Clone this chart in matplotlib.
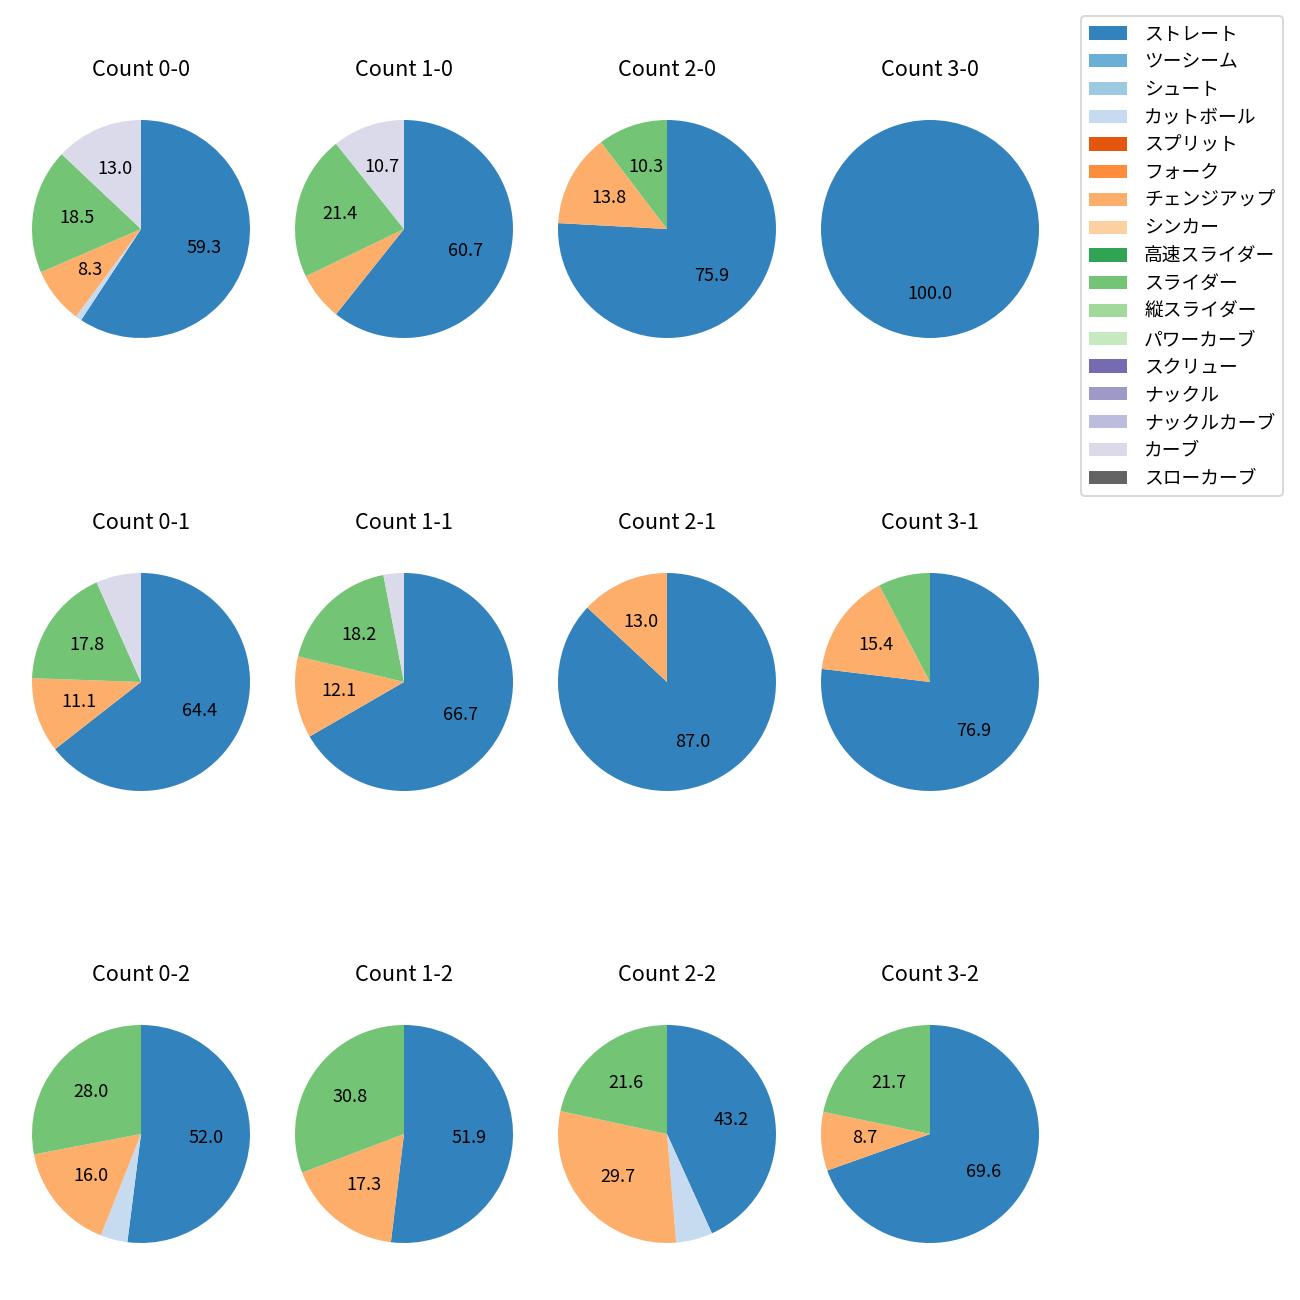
import matplotlib.pyplot as plt
from matplotlib.patches import Patch

plt.rcParams['font.family'] = ['Noto Sans CJK JP', 'DejaVu Sans']

pitch_types = ['ストレート', 'ツーシーム', 'シュート', 'カットボール', 'スプリット',
               'フォーク', 'チェンジアップ', 'シンカー', '高速スライダー', 'スライダー',
               '縦スライダー', 'パワーカーブ', 'スクリュー', 'ナックル', 'ナックルカーブ',
               'カーブ', 'スローカーブ']

# pitch counts per ball-strike count, same order as pitch_types
c00 = [64, 0, 0, 1, 0, 0, 9, 0, 0, 20, 0, 0, 0, 0, 0, 14, 0]
c10 = [17, 0, 0, 0, 0, 0, 2, 0, 0, 6, 0, 0, 0, 0, 0, 3, 0]
c20 = [22, 0, 0, 0, 0, 0, 4, 0, 0, 3, 0, 0, 0, 0, 0, 0, 0]
c30 = [5, 0, 0, 0, 0, 0, 0, 0, 0, 0, 0, 0, 0, 0, 0, 0, 0]
c01 = [29, 0, 0, 0, 0, 0, 5, 0, 0, 8, 0, 0, 0, 0, 0, 3, 0]
c11 = [22, 0, 0, 0, 0, 0, 4, 0, 0, 6, 0, 0, 0, 0, 0, 1, 0]
c21 = [20, 0, 0, 0, 0, 0, 3, 0, 0, 0, 0, 0, 0, 0, 0, 0, 0]
c31 = [10, 0, 0, 0, 0, 0, 2, 0, 0, 1, 0, 0, 0, 0, 0, 0, 0]
c02 = [13, 0, 0, 1, 0, 0, 4, 0, 0, 7, 0, 0, 0, 0, 0, 0, 0]
c12 = [27, 0, 0, 0, 0, 0, 9, 0, 0, 16, 0, 0, 0, 0, 0, 0, 0]
c22 = [16, 0, 0, 2, 0, 0, 11, 0, 0, 8, 0, 0, 0, 0, 0, 0, 0]
c32 = [16, 0, 0, 0, 0, 0, 2, 0, 0, 5, 0, 0, 0, 0, 0, 0, 0]

grid = [[('Count 0-0', c00), ('Count 1-0', c10), ('Count 2-0', c20), ('Count 3-0', c30)],
        [('Count 0-1', c01), ('Count 1-1', c11), ('Count 2-1', c21), ('Count 3-1', c31)],
        [('Count 0-2', c02), ('Count 1-2', c12), ('Count 2-2', c22), ('Count 3-2', c32)]]

cmap = plt.get_cmap('tab20c')
colors = [cmap(i) for i in range(len(pitch_types))]

W = 1300
fig = plt.figure(figsize=(10, 10), dpi=130)

col_x = [141, 404, 667, 930]
row_y = [229, 682, 1134]
side = 272.5


def pct_label(p):
    return f'{p:.1f}' if p >= 8 else ''


for r, row in enumerate(grid):
    for c, (title, vals) in enumerate(row):
        ax = fig.add_axes([(col_x[c] - side / 2) / W, 1 - (row_y[r] + side / 2) / W,
                           side / W, side / W])
        ax.pie(vals, colors=colors, startangle=90, counterclock=False,
               autopct=pct_label, textprops={'fontsize': 10})
        ax.set_title(title, fontsize=12, pad=9.3)

handles = [Patch(facecolor=col) for col in colors]
fig.legend(handles, pitch_types, loc='upper right',
           bbox_to_anchor=(1283 / W, 1 - 16 / W), borderaxespad=0,
           fontsize=10.4, handlelength=2.05, handletextpad=0.9,
           labelspacing=0.36)

fig.savefig('out.png', dpi=130)
